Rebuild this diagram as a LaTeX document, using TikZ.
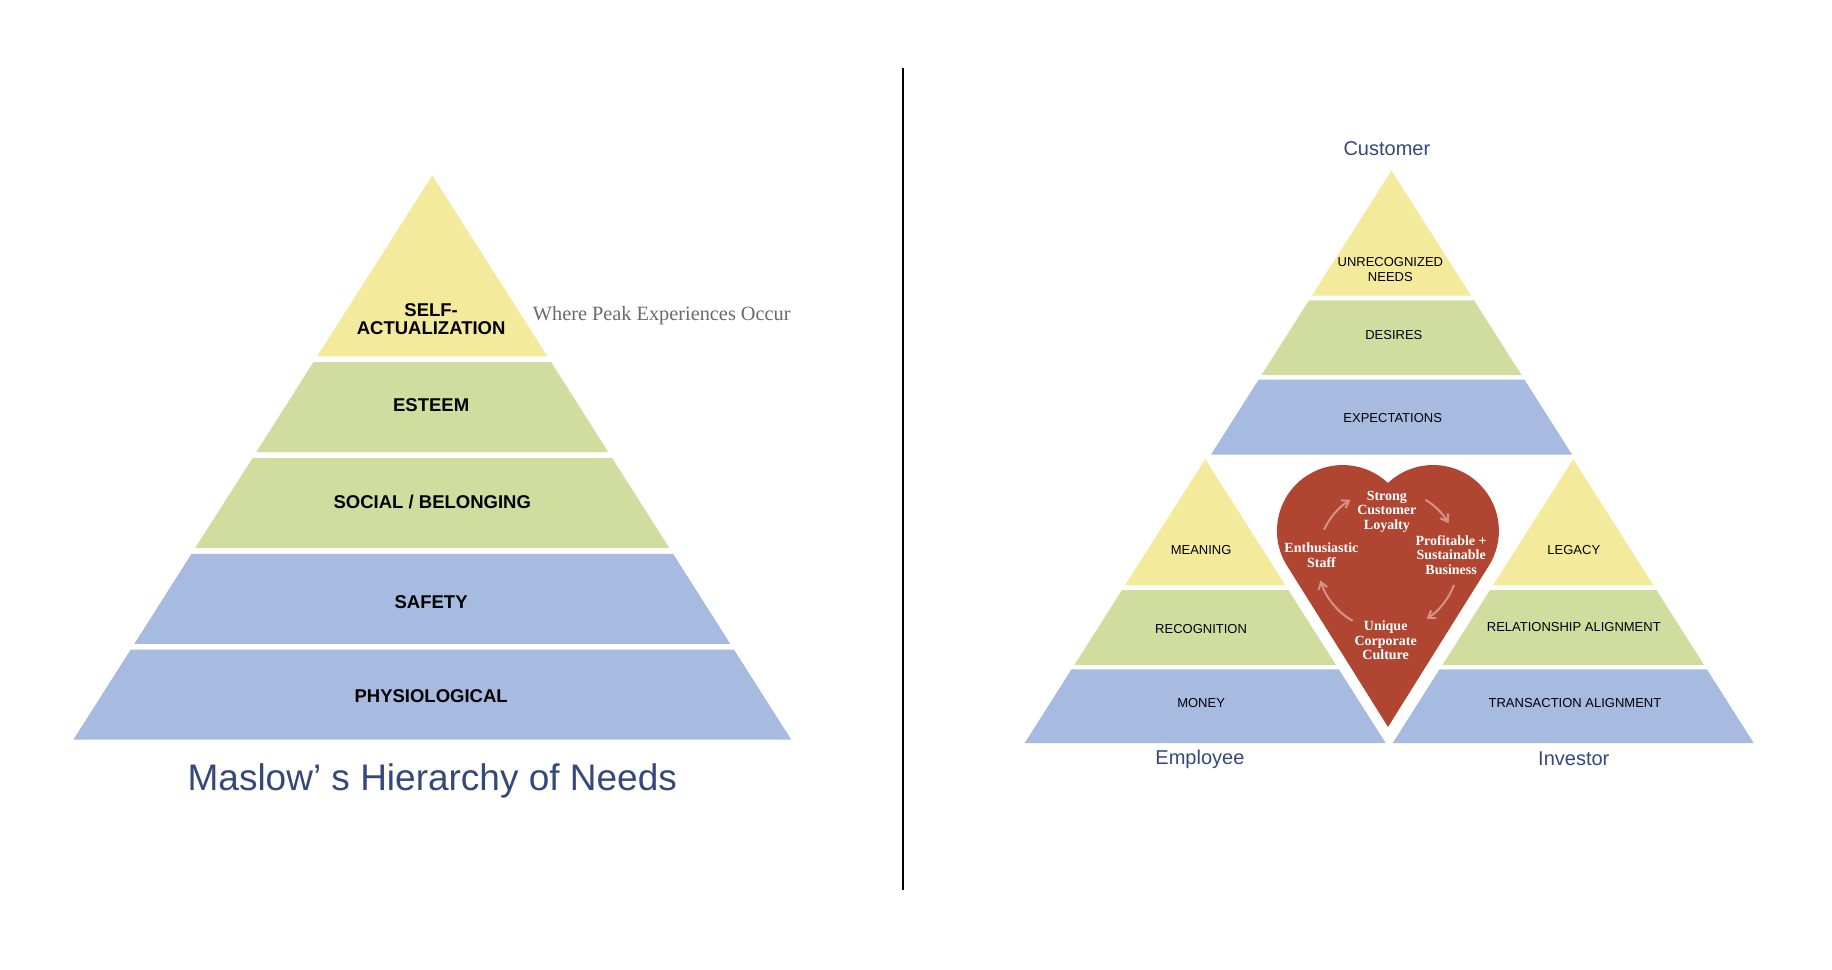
\documentclass[tikz,border=0pt]{standalone}
\usepackage{fontspec}
\setmainfont{Liberation Serif}
\setsansfont{Liberation Sans}
\usepackage{xcolor}
\usetikzlibrary{calc,arrows.meta}
\definecolor{tieryel}{RGB}{243,234,156}
\definecolor{tiergrn}{RGB}{208,221,159}
\definecolor{tierblu}{RGB}{167,187,225}
\definecolor{heartred}{RGB}{176,69,50}
\definecolor{loopclr}{RGB}{214,146,136}
\definecolor{navy}{RGB}{52,72,122}
\definecolor{peakgray}{RGB}{105,105,112}

\begin{document}
\begin{tikzpicture}[
  x=1.1684pt, y=1.1684pt,
  lvl/.style={font=\sffamily\bfseries\fontsize{18.5}{17.5}\selectfont, align=center, inner sep=0pt},
  need/.style={font=\sffamily\fontsize{13}{15}\selectfont, align=center, inner sep=0pt},
  who/.style={font=\sffamily\fontsize{20}{24}\selectfont, text=navy, inner sep=0pt},
  cyctext/.style={font=\bfseries\fontsize{14}{14.8}\selectfont, text=white, align=center, inner sep=0pt},
  loopar/.style={-{Straight Barb[length=2.4mm, width=3.2mm]}, loopclr, line width=2pt},
]
\useasboundingbox (0,0) rectangle (1568,-830);

% Maslow pyramid
\fill[tieryel] (370,-150) -- (468.6,-305) -- (271.4,-305) -- cycle;
\fill[tiergrn] (268.2,-310) -- (471.8,-310) -- (520.7,-387) -- (219.3,-387) -- cycle;
\fill[tiergrn] (216.1,-392) -- (523.9,-392) -- (572.9,-469) -- (167.1,-469) -- cycle;
\fill[tierblu] (163.9,-474) -- (576.1,-474) -- (625,-551) -- (115,-551) -- cycle;
\fill[tierblu] (111.8,-556) -- (628.2,-556) -- (677.2,-633) -- (62.8,-633) -- cycle;

\node[lvl] (selfact) at (369,-273) {SELF-\\ACTUALIZATION};
\node[lvl] (esteem) at (369,-347) {ESTEEM};
\node[lvl] (social) at (370,-430) {SOCIAL / BELONGING};
\node[lvl] (safety) at (369,-515) {SAFETY};
\node[lvl] (physio) at (369,-596) {PHYSIOLOGICAL};
\node[font=\fontsize{20.3}{24}\selectfont, text=peakgray, anchor=west, inner sep=0pt] (peak) at (456,-270) {Where Peak Experiences Occur};
\node[font=\sffamily\fontsize{37}{44}\selectfont, text=navy, inner sep=0pt, anchor=base] (maslow) at (370,-677) {Maslow’ s Hierarchy of Needs};

% divider
\draw[line width=2.5pt] (773,-58) -- (773,-762);

% customer pyramid
\fill[tieryel] (1191,-146) -- (1259.1,-253) -- (1122.9,-253) -- cycle;
\fill[tiergrn] (1120.4,-257) -- (1261.6,-257) -- (1302.3,-321) -- (1079.7,-321) -- cycle;
\fill[tierblu] (1077.2,-325) -- (1304.8,-325) -- (1345.5,-389) -- (1036.5,-389) -- cycle;
% employee pyramid
\fill[tieryel] (1031.5,-393) -- (1100.2,-501) -- (962.8,-501) -- cycle;
\fill[tiergrn] (960.3,-505) -- (1102.7,-505) -- (1143.4,-569) -- (919.6,-569) -- cycle;
\fill[tierblu] (917,-573) -- (1146,-573) -- (1186,-636) -- (877,-636) -- cycle;
% investor pyramid
\fill[tieryel] (1346.5,-393) -- (1415.2,-501) -- (1277.8,-501) -- cycle;
\fill[tiergrn] (1275.3,-505) -- (1417.7,-505) -- (1458.4,-569) -- (1234.6,-569) -- cycle;
\fill[tierblu] (1232,-573) -- (1461,-573) -- (1501,-636) -- (1192,-636) -- cycle;

\node[who] (customer) at (1187,-127) {Customer};
\node[need] (unrec) at (1190,-231) {UNRECOGNIZED\\NEEDS};
\node[need] (desires) at (1193,-287) {DESIRES};
\node[need] (expect) at (1192,-358) {EXPECTATIONS};
\node[need] (meaning) at (1028,-471) {MEANING};
\node[need] (recog) at (1028,-538) {RECOGNITION};
\node[need] (money) at (1028,-602) {MONEY};
\node[need] (legacy) at (1347,-471) {LEGACY};
\node[need] (relation) at (1347,-537) {RELATIONSHIP ALIGNMENT};
\node[need] (transact) at (1348,-602) {TRANSACTION ALIGNMENT};
\node[who] (employee) at (1027,-650) {Employee};
\node[who] (investor) at (1347,-649) {Investor};

% heart
\fill[heartred] (1188,-622.2) -- (1101.6,-484.3)
  arc[start angle=212.2, end angle=46.6, radius=56.3]
  arc[start angle=133.4, end angle=-32.2, radius=56.3] -- cycle;

\node[cyctext] (loyal) at (1187,-438) {Strong\\Customer\\Loyalty};
\node[cyctext] (staff) at (1131,-475) {Enthusiastic\\Staff};
\node[cyctext] (profit) at (1242,-475) {Profitable +\\Sustainable\\Business};
\node[cyctext] (culture) at (1186,-548) {Unique\\Corporate\\Culture};

\coordinate (cyc) at (1188,-479);
\draw[loopar] ($(cyc)+(155:60.5)$) arc[start angle=155, end angle=122, radius=60.5];
\draw[loopar] ($(cyc)+(58:60.5)$) arc[start angle=58, end angle=31, radius=60.5];
\draw[loopar] ($(cyc)+(-21:60.5)$) arc[start angle=-21, end angle=-57, radius=60.5];
\draw[loopar] ($(cyc)+(240:60.5)$) arc[start angle=240, end angle=197, radius=60.5];
\end{tikzpicture}
\end{document}
